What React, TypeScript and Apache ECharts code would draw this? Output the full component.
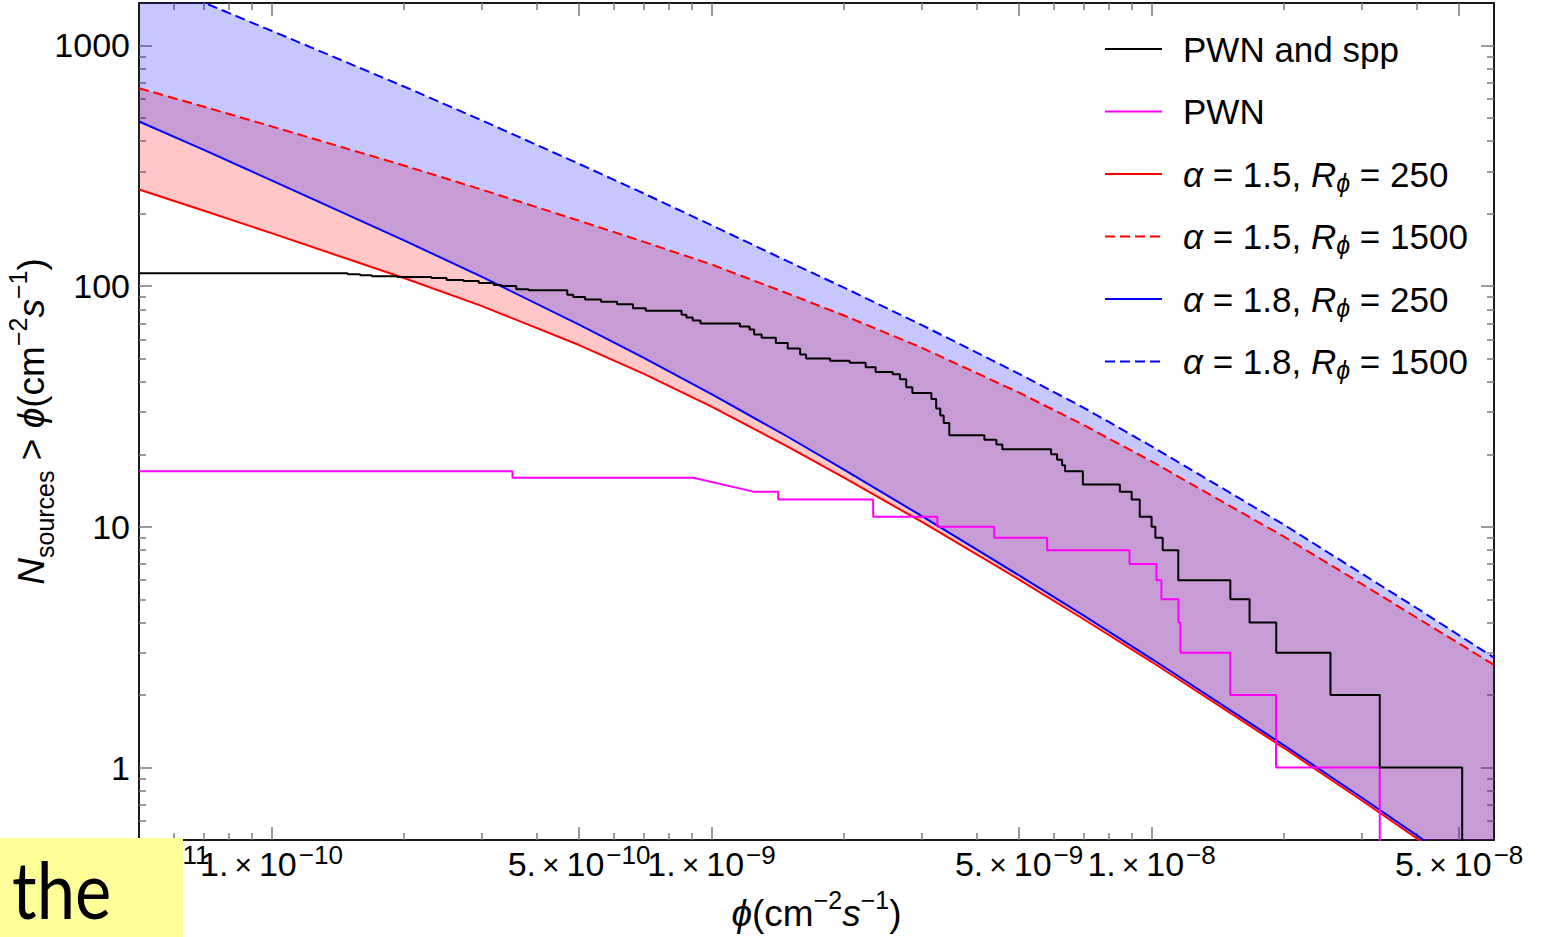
import React, { useEffect, useRef } from "react";
import * as echarts from "echarts";

const FONT = '"Liberation Sans", Arial, Helvetica, sans-serif';

// Axis ranges
const xMin = 5e-11;
const xMax = 6e-8;
const yMin = 0.5;
const yMax = 1500;

// Tick positions (the label at the left edge sits on its own axis layer)
const xEdgeTicks = [5e-11];
const xMajorTicks = [1e-10, 5e-10, 1e-9, 5e-9, 1e-8, 5e-8];
const xMinorTicks = [
  6e-11, 7e-11, 8e-11, 9e-11, 2e-10, 3e-10, 4e-10, 6e-10, 7e-10, 8e-10, 9e-10,
  2e-9, 3e-9, 4e-9, 6e-9, 7e-9, 8e-9, 9e-9, 2e-8, 3e-8, 4e-8,
];
const yMajorTicks = [1, 10, 100, 1000];
const yMinorTicks = [
  0.6, 0.7, 0.8, 0.9, 2, 3, 4, 5, 6, 7, 8, 9, 20, 30, 40, 50, 60, 70, 80, 90,
  200, 300, 400, 500, 600, 700, 800, 900,
];

// Model curves N(>phi), sampled on a common flux grid
const fluxGrid = [
  5e-11, 7e-11, 1e-10, 2e-10, 3e-10, 5e-10, 7e-10, 1e-9, 1.5e-9, 2e-9, 3e-9, 5e-9,
  7e-9, 1e-8, 2e-8, 3e-8, 4e-8, 6e-8,
];
const a15R250 = [252, 206, 166, 108, 82.8, 56.9, 43.3, 31.6, 21.4, 16.0, 10.5, 6.04, 4.14, 2.75, 1.205, 0.731, 0.509, 0.303];
const a15R1500 = [664, 557, 461, 317, 252, 187, 153, 123, 92.7, 75.5, 55.5, 36.1, 26.5, 18.7, 9.1, 5.8, 4.2, 2.67];
const a18R250 = [483, 369, 275, 155, 109.4, 69.2, 50.5, 35.6, 23.5, 17.3, 11.1, 6.28, 4.29, 2.83, 1.236, 0.751, 0.524, 0.313];
const a18R1500 = [1970, 1510, 1150, 675, 489, 322, 243, 179, 126, 98.6, 69, 43.2, 31.3, 21.6, 10.2, 6.4, 4.6, 2.86];

// PWN and spp: flux at which the cumulative count changes, and the new count
const allFlux = [
  5e-11, 1.49e-10, 1.59e-10, 1.69e-10, 1.93e-10, 2.31e-10, 2.5e-10, 2.73e-10, 2.96e-10,
  3.2e-10, 3.33e-10, 3.6e-10, 3.84e-10, 4.7e-10, 4.85e-10, 5.16e-10, 5.61e-10, 6.1e-10,
  6.63e-10, 7.09e-10, 8.55e-10, 8.77e-10, 9.06e-10, 9.44e-10, 1.16e-9, 1.22e-9, 1.25e-9,
  1.3e-9, 1.4e-9, 1.49e-9, 1.59e-9, 1.64e-9, 1.86e-9, 2.06e-9, 2.24e-9, 2.36e-9, 2.58e-9,
  2.68e-9, 2.77e-9, 2.86e-9, 3.16e-9, 3.24e-9, 3.31e-9, 3.37e-9, 3.47e-9, 4.17e-9, 4.44e-9,
  4.58e-9, 5.91e-9, 6.1e-9, 6.26e-9, 6.36e-9, 6.98e-9, 8.47e-9, 9.01e-9, 9.4e-9, 1.0e-8,
  1.02e-8, 1.06e-8, 1.15e-8, 1.51e-8, 1.67e-8, 1.92e-8, 2.55e-8, 3.3e-8, 5.08e-8,
];
const allCount = [
  113, 112, 111, 110, 109, 108, 106, 105, 103,
  101, 100, 97, 96, 92, 90, 88, 86, 84,
  81, 79, 76, 74, 72, 70, 68, 66, 63,
  61, 58, 55, 52, 50, 49, 48, 46, 44, 43,
  41, 38, 36, 34, 31, 29, 27, 24, 23, 22,
  21, 20, 19, 18, 17, 15, 14, 13, 11, 10,
  9, 8, 6, 5, 4, 3, 2, 1, 0.1,
];

// PWN only: vertices of the cumulative-count curve
const pwnFlux = [
  5e-11, 3.53e-10, 3.53e-10, 9.1e-10, 1.245e-9, 1.418e-9, 1.418e-9, 2.33e-9, 2.33e-9,
  3.26e-9, 3.26e-9, 4.39e-9, 4.39e-9, 5.79e-9, 5.79e-9, 8.91e-9, 8.91e-9, 1.026e-8,
  1.026e-8, 1.053e-8, 1.053e-8, 1.151e-8, 1.151e-8, 1.163e-8, 1.163e-8, 1.509e-8,
  1.509e-8, 1.918e-8, 1.918e-8, 3.3e-8, 3.3e-8,
];
const pwnCount = [
  17, 17, 16, 16, 14, 14, 13, 13, 11,
  11, 10, 10, 9, 9, 8, 8, 7, 7,
  6, 6, 5, 5, 4, 4, 3, 3,
  2, 2, 1, 1, 0.1,
];

const FRAME = "#1a1a1a";
const TICK = "#7a7a7a";

const pairs = (xs: number[], ys: number[]) => xs.map((x, i) => [x, ys[i]]);

function bandSeries(name: string, lower: number[], upper: number[], fill: string) {
  return {
    type: "custom",
    name,
    silent: true,
    z: 1,
    xAxisIndex: 0,
    yAxisIndex: 0,
    data: fluxGrid.map((f, i) => [f, lower[i], upper[i]]),
    encode: { x: 0, y: [1, 2] },
    renderItem: (params: any, api: any) => {
      if (params.dataIndex !== 0) return null;
      const top = fluxGrid.map((f, i) => api.coord([f, upper[i]]));
      const bottom = fluxGrid.map((f, i) => api.coord([f, lower[i]])).reverse();
      const cs = params.coordSys;
      return {
        type: "polygon",
        shape: { points: top.concat(bottom) },
        style: { fill },
        clipPath: {
          type: "rect",
          shape: { x: cs.x, y: cs.y, width: cs.width, height: cs.height },
        },
      };
    },
  };
}

function lineSeries(name: string, data: number[][], color: string, dashed: boolean, extra: any = {}) {
  return {
    type: "line",
    name,
    data,
    color,
    symbol: "none",
    showSymbol: false,
    silent: true,
    z: 3,
    clip: true,
    xAxisIndex: 0,
    yAxisIndex: 0,
    lineStyle: { color, width: 2, type: dashed ? [10, 5] : "solid" },
    ...extra,
  };
}

const titleRich = {
  i: { fontFamily: FONT, fontSize: 37, fontStyle: "italic", color: "#000" },
  sb: { fontFamily: FONT, fontSize: 25, color: "#000", verticalAlign: "bottom", lineHeight: 25 },
  sp: { fontFamily: FONT, fontSize: 25, color: "#000", verticalAlign: "top", lineHeight: 25 },
};

function formatPow(v: number) {
  const e = Math.floor(Math.log10(v) + 1e-9);
  const m = Math.round(v / Math.pow(10, e));
  return `{b|${m}.}{x|×}{b|10}{s|−${-e}}`;
}

const powLabel = (values: number[]) => ({
  show: true,
  customValues: values,
  hideOverlap: false,
  showMinLabel: true,
  showMaxLabel: true,
  margin: 2,
  formatter: formatPow,
  rich: {
    b: { fontFamily: FONT, fontSize: 34, color: "#000", lineHeight: 44 },
    x: { fontFamily: FONT, fontSize: 30, color: "#000", padding: [0, 7, 0, 6] },
    s: { fontFamily: FONT, fontSize: 26, color: "#000", verticalAlign: "top", lineHeight: 24, padding: [0, 0, 0, 2] },
  },
});

function xAxisDef(position: string, major: boolean) {
  return {
    type: "log",
    logBase: 10,
    min: xMin,
    max: xMax,
    position,
    splitLine: { show: false },
    minorTick: { show: false },
    axisLine: { show: major, onZero: false, lineStyle: { color: FRAME, width: 2 } },
    axisTick: {
      show: true,
      inside: true,
      length: major ? 13 : 7,
      customValues: major ? xMajorTicks : xMinorTicks,
      lineStyle: { color: TICK, width: 1.5 },
    },
    axisLabel: { show: false },
  };
}

function yAxisDef(position: string, major: boolean) {
  return {
    type: "log",
    logBase: 10,
    min: yMin,
    max: yMax,
    position,
    splitLine: { show: false },
    minorTick: { show: false },
    axisLine: { show: major, onZero: false, lineStyle: { color: FRAME, width: 2 } },
    axisTick: {
      show: true,
      inside: true,
      length: major ? 13 : 7,
      customValues: major ? yMajorTicks : yMinorTicks,
      lineStyle: { color: TICK, width: 1.5 },
    },
    axisLabel: { show: false },
  };
}

function buildOption() {
  const xBottom: any = xAxisDef("bottom", true);
  xBottom.axisLabel = powLabel(xMajorTicks);
  xBottom.name = "{i|ϕ}(cm{sp|−2}{i|s}{sp|−1})";
  xBottom.nameLocation = "middle";
  xBottom.nameGap = 47;
  xBottom.nameMoveOverlap = false;
  xBottom.nameTextStyle = { fontFamily: FONT, fontSize: 37, color: "#000", lineHeight: 52, rich: titleRich };

  const xBottomMinor: any = xAxisDef("bottom", false);
  xBottomMinor.axisLabel = powLabel(xEdgeTicks);

  const yLeft: any = yAxisDef("left", true);
  yLeft.axisLabel = {
    show: true,
    customValues: yMajorTicks,
    hideOverlap: false,
    margin: 9,
    fontFamily: FONT,
    fontSize: 34,
    color: "#000",
    formatter: (v: number) => String(Math.round(v)),
  };
  yLeft.name = "{i|N}{sb|sources} > {i|ϕ}(cm{sp|−2}{i|s}{sp|−1})";
  yLeft.nameLocation = "middle";
  yLeft.nameRotate = 90;
  yLeft.nameGap = 82;
  yLeft.nameMoveOverlap = false;
  yLeft.nameTextStyle = { fontFamily: FONT, fontSize: 37, color: "#000", lineHeight: 52, rich: titleRich };

  const legendNames = [
    "PWN and spp",
    "PWN",
    "α = 1.5, Rϕ = 250",
    "α = 1.5, Rϕ = 1500",
    "α = 1.8, Rϕ = 250",
    "α = 1.8, Rϕ = 1500",
  ];

  return {
    animation: false,
    backgroundColor: "#ffffff",
    grid: { left: 139, right: 50, top: 3, bottom: 97, containLabel: false, outerBoundsMode: "none" },
    xAxis: [xBottom, xBottomMinor, xAxisDef("top", true), xAxisDef("top", false)],
    yAxis: [yLeft, yAxisDef("left", false), yAxisDef("right", true), yAxisDef("right", false)],
    legend: {
      data: legendNames,
      orient: "vertical",
      left: 1104,
      top: 28,
      padding: 0,
      itemWidth: 57,
      itemHeight: 20,
      itemGap: 20.5,
      selectedMode: false,
      itemStyle: { opacity: 0, borderWidth: 0, color: "rgba(0,0,0,0)" },
      lineStyle: { opacity: 1 },
      formatter: (name: string) =>
        name.replace("α", "{i|α}").replace("Rϕ", "{i|R}{sb|ϕ}"),
      textStyle: {
        fontFamily: FONT,
        fontSize: 35,
        color: "#000",
        lineHeight: 42,
        padding: [0, 0, 0, 16],
        rich: {
          i: { fontFamily: FONT, fontSize: 35, fontStyle: "italic", color: "#000", lineHeight: 42 },
          sb: { fontFamily: FONT, fontSize: 25, fontStyle: "italic", color: "#000", verticalAlign: "bottom", lineHeight: 20 },
        },
      },
    },
    graphic: [
      {
        type: "rect",
        z: 100,
        silent: true,
        shape: { x: 0, y: 838, width: 183, height: 99 },
        style: { fill: "#ffff99" },
      },
      {
        type: "text",
        z: 101,
        silent: true,
        x: 12,
        y: 848,
        scaleX: 0.86,
        style: {
          text: "the",
          fontFamily: "Lato, 'Open Sans', sans-serif",
          fontSize: 80,
          fill: "#000",
        },
      },
    ],
    series: [
      bandSeries("band α = 1.5", a15R250, a15R1500, "rgba(255,0,0,0.22)"),
      bandSeries("band α = 1.8", a18R250, a18R1500, "rgba(0,0,255,0.22)"),
      {
        type: "line",
        name: "reference",
        data: [],
        silent: true,
        z: 2,
        xAxisIndex: 0,
        yAxisIndex: 0,
        markLine: {
          silent: true,
          symbol: ["none", "none"],
          label: { show: false },
          lineStyle: { color: "rgba(130,130,130,0.45)", width: 2.5, type: "solid" },
          data: [{ xAxis: 1e-9 }],
        },
      },
      lineSeries("α = 1.5, Rϕ = 250", pairs(fluxGrid, a15R250), "#ff0000", false),
      lineSeries("α = 1.5, Rϕ = 1500", pairs(fluxGrid, a15R1500), "#ff0000", true),
      lineSeries("α = 1.8, Rϕ = 250", pairs(fluxGrid, a18R250), "#0000ff", false),
      lineSeries("α = 1.8, Rϕ = 1500", pairs(fluxGrid, a18R1500), "#0000ff", true),
      lineSeries("PWN", pairs(pwnFlux, pwnCount), "#ff00ff", false),
      lineSeries("PWN and spp", pairs(allFlux, allCount), "#000000", false, { step: "end" }),
    ],
  };
}

export default function App() {
  const ref = useRef<HTMLDivElement>(null);
  useEffect(() => {
    if (!ref.current) return;
    const chart = echarts.init(ref.current, null, { renderer: "svg" });
    chart.setOption(buildOption() as any);
    return () => chart.dispose();
  }, []);
  return (
    <div
      ref={ref}
      style={{ position: "fixed", left: 0, top: 0, width: 1544, height: 937, background: "#ffffff" }}
    />
  );
}
